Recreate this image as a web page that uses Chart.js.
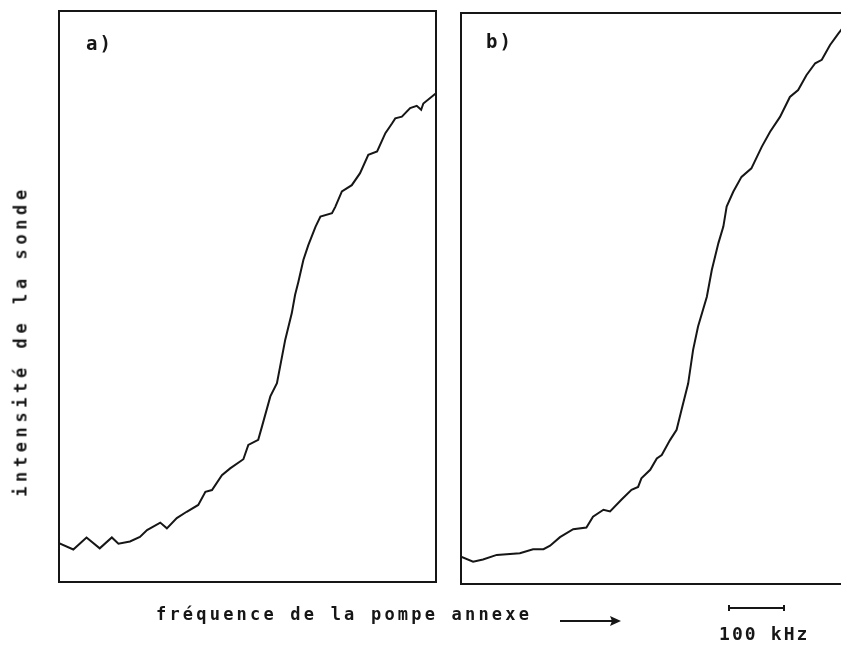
<!DOCTYPE html>
<html lang="fr">
<head>
<meta charset="utf-8">
<title>Intensité de la sonde</title>
<script src="https://cdn.jsdelivr.net/npm/chart.js@4/dist/chart.umd.min.js"></script>
<style>
  body { margin: 0; background: #fff; overflow: hidden; }
  #page { position: relative; width: 841px; height: 645px; overflow: hidden; }
  .panel { position: absolute; top: 0; height: 645px; }
  .txt {
    position: absolute;
    font-family: "DejaVu Sans Mono", "Liberation Mono", monospace;
    font-weight: bold;
    color: #161616;
    white-space: nowrap;
    line-height: 1;
  }
</style>
</head>
<body>
<div id="page">
  <div class="panel" style="left:0; width:445px;"><canvas id="graphA"></canvas></div>
  <div class="panel" style="left:450px; width:400px;"><canvas id="graphB"></canvas></div>

  <div class="txt" style="left:86px; top:34px; font-size:19px; letter-spacing:2px;">a)</div>
  <div class="txt" style="left:486px; top:32px; font-size:19px; letter-spacing:2px;">b)</div>
  <div class="txt" id="titreY" style="left:21px; top:341px; font-size:17px; letter-spacing:4.6px;
       transform: translate(-50%, -50%) rotate(-90deg);">intensité de la sonde</div>
  <div class="txt" style="left:156px; top:606px; font-size:17px; letter-spacing:3.2px;">fréquence de la pompe annexe</div>
  <div class="txt" style="left:719px; top:625px; font-size:18px; letter-spacing:2.1px;">100 kHz</div>
</div>

<script>
// fréquence en kHz (origine au bord gauche de chaque cadre), intensité en unités arbitraires
var freqA = [0, 26, 50, 74, 96, 108, 129, 147, 160, 184, 196, 214, 232, 253, 266, 278,
             296, 311, 335, 344, 362, 369, 384, 396, 411, 423, 429, 435, 444, 453, 466, 475,
             496, 502, 514, 532, 547, 562, 578, 593, 605, 611, 623, 638, 650, 658, 662, 685];
var intensiteA = [6.8, 5.7, 7.8, 5.9, 7.8, 6.7, 7.1, 7.9, 9.1, 10.4, 9.4, 11.2, 12.3, 13.5, 15.8, 16.1,
                  18.7, 19.9, 21.5, 24.0, 24.9, 27.3, 32.5, 34.8, 42.4, 47.1, 50.3, 52.6, 56.4, 59.0, 62.2, 64.0,
                  64.6, 65.7, 68.4, 69.5, 71.6, 74.8, 75.4, 78.6, 80.3, 81.2, 81.5, 83.0, 83.4, 82.7, 83.8, 85.6];

var freqB = [0, 22, 40, 65, 107, 131, 150, 162, 180, 204, 228, 240, 259, 271, 292, 310,
             322, 328, 344, 356, 365, 380, 392, 401, 413, 422, 431, 447, 456, 468, 477, 483,
             495, 510, 528, 547, 562, 580, 598, 613, 628, 644, 656, 671, 686, 698];
var intensiteB = [4.8, 3.9, 4.3, 5.1, 5.4, 6.1, 6.1, 6.7, 8.2, 9.6, 9.9, 11.8, 13.0, 12.7, 14.8, 16.5,
                  17.0, 18.5, 20.0, 22.0, 22.6, 25.2, 27.0, 30.5, 35.1, 41.0, 45.1, 50.3, 55.0, 59.7, 62.6, 66.1,
                  68.7, 71.3, 72.8, 76.6, 79.2, 81.8, 85.3, 86.5, 89.1, 91.2, 91.8, 94.4, 96.4, 97.9];

// étalon de fréquence dessiné sous le cadre b)
var etalonKHz = 100;

function points(xs, ys) {
    var pts = [];
    for (var i = 0; i < xs.length; i++) {
        pts.push({ x: xs[i], y: ys[i] });
    }
    return pts;
}

// cadre noir autour de la zone du tracé
var cadre = {
    id: "cadre",
    afterDraw: function(chart) {
        var a = chart.chartArea;
        var ctx = chart.ctx;
        ctx.save();
        ctx.strokeStyle = "#161616";
        ctx.lineWidth = 2;
        ctx.strokeRect(a.left, a.top, a.right - a.left, a.bottom - a.top);
        ctx.restore();
    }
};

// flèche de l'axe des fréquences et barre de 100 kHz (sur le graphe b)
var echelle = {
    id: "echelle",
    afterDraw: function(chart) {
        var ctx = chart.ctx;
        var sx = chart.scales.x;
        var longueur = sx.getPixelForValue(etalonKHz) - sx.getPixelForValue(0);
        var x0 = 279, y0 = 608;
        ctx.save();
        ctx.strokeStyle = "#161616";
        ctx.fillStyle = "#161616";
        ctx.lineWidth = 2;
        ctx.beginPath();
        ctx.moveTo(x0, y0);
        ctx.lineTo(x0 + longueur, y0);
        ctx.moveTo(x0, y0 - 3);
        ctx.lineTo(x0, y0 + 3);
        ctx.moveTo(x0 + longueur, y0 - 3);
        ctx.lineTo(x0 + longueur, y0 + 3);
        ctx.stroke();

        // flèche
        ctx.beginPath();
        ctx.moveTo(110, 621);
        ctx.lineTo(166, 621);
        ctx.stroke();
        ctx.beginPath();
        ctx.moveTo(171, 621);
        ctx.lineTo(160, 616);
        ctx.lineTo(162, 621);
        ctx.lineTo(160, 626);
        ctx.closePath();
        ctx.fill();
        ctx.restore();
    }
};

function creerGraphe(id, xs, ys, xMax, padding, extras) {
    var ctx = document.getElementById(id).getContext("2d");
    return new Chart(ctx, {
        type: "line",
        data: {
            datasets: [{
                data: points(xs, ys),
                borderColor: "#161616",
                borderWidth: 2,
                pointRadius: 0,
                tension: 0,
                fill: false
            }]
        },
        options: {
            responsive: true,
            maintainAspectRatio: false,
            animation: false,
            layout: { padding: padding },
            plugins: { legend: { display: false }, tooltip: { enabled: false } },
            scales: {
                x: { type: "linear", min: 0, max: xMax, display: false },
                y: { min: 0, max: 100, display: false }
            }
        },
        plugins: [cadre].concat(extras)
    });
}

creerGraphe("graphA", freqA, intensiteA, 685, { left: 59, top: 11, right: 9, bottom: 63 }, []);
creerGraphe("graphB", freqB, intensiteB, 700, { left: 11, top: 13, right: 4, bottom: 61 }, [echelle]);
</script>
</body>
</html>
